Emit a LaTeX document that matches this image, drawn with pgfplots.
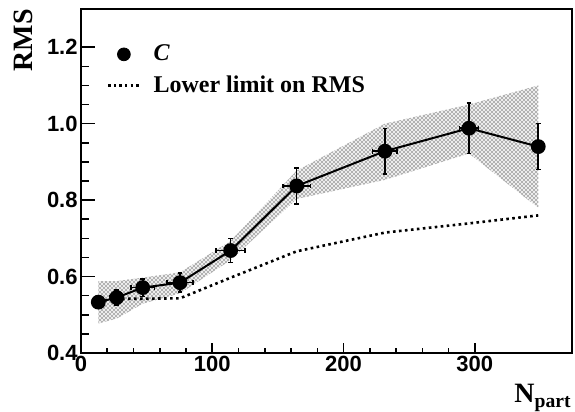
\documentclass[border=0pt]{standalone}
\usepackage{fontspec}
\setmainfont{Liberation Serif}
\setsansfont{Liberation Sans}
\usepackage{pgfplots}
\pgfplotsset{compat=1.18}
\usetikzlibrary{patterns}
\pgfdeclarepatternformonly{rootcross}{\pgfpoint{-0.3pt}{-0.3pt}}{\pgfpoint{2.3pt}{2.3pt}}{\pgfpoint{2pt}{2pt}}{%
  \pgfsetlinewidth{0.4pt}%
  \pgfpathmoveto{\pgfpoint{0pt}{0pt}}\pgfpathlineto{\pgfpoint{2pt}{2pt}}%
  \pgfpathmoveto{\pgfpoint{0pt}{2pt}}\pgfpathlineto{\pgfpoint{2pt}{0pt}}%
  \pgfusepath{stroke}}
\pgfplotsset{shortline legend/.style={legend image code/.code={\draw[##1] (0cm,0cm) -- (0.55cm,0cm);}},
  dot legend/.style={legend image code/.code={\draw[##1] plot coordinates {(0.275cm,0cm)};}}}

\pgfplotstableread{
x     y      ex    ey
13.2  0.533  0     0.010
27.2  0.545  5     0.020
47    0.571  9     0.023
75.4  0.584  10    0.025
114   0.668  11    0.031
164.3 0.837  10.4  0.047
231.5 0.928  9.4   0.059
295.5 0.988  7.2   0.066
348.3 0.940  0     0.060
}\datatable

\pgfplotstableread{
x     y
13.2  0.535
27.2  0.542
47    0.542
75.4  0.543
114   0.597
164.3 0.666
231.5 0.715
295.5 0.739
348.3 0.760
}\limittable

\begin{document}
\begin{tikzpicture}
\begin{axis}[name=ax, scale only axis, width=245.5pt, height=172pt,
  xmin=0, xmax=374, ymin=0.4, ymax=1.3,
  xtick={0,100,200,300}, minor x tick num=4,
  ytick={0.4,0.6,0.8,1.0,1.2}, minor y tick num=3,
  tick align=inside, xtick pos=left, ytick pos=left,
  major tick length=6pt, minor tick length=3pt,
  xtick style={/pgfplots/major tick length=5pt, /pgfplots/minor tick length=2.5pt},
  ytick style={/pgfplots/major tick length=7pt, /pgfplots/minor tick length=4pt},
  axis line style={line width=0.9pt},
  every tick/.style={line width=0.8pt, black},
  /pgf/number format/assume math mode=true,
  ticklabel style={font=\fontsize{11}{11}\selectfont\sffamily\bfseries},
  xticklabel style={inner sep=1.5pt},
  yticklabel style={inner sep=1.5pt, /pgf/number format/.cd, fixed, fixed zerofill, precision=1},
  ylabel={RMS},
  ylabel style={font=\fontsize{14}{14}\selectfont\bfseries, at={(axis description cs:-0.0978,1)}, anchor=south east, inner sep=0pt},
  xlabel={N\textsubscript{part}},
  xlabel style={font=\fontsize{14}{14}\selectfont\bfseries, at={(axis description cs:1,-0.145)}, anchor=base east, inner sep=0pt},
  legend style={draw=none, fill=none, at={(0.04,0.92)}, anchor=north west,
    font=\fontsize{12}{14}\selectfont\bfseries, row sep=2pt},
  legend cell align=left,
]
\addlegendimage{dot legend, only marks, mark=*, mark size=3.2pt, black}
\addlegendentry{\hspace*{4.4pt}\textit{C}}
\addlegendimage{shortline legend, black, line width=1.2pt, dash pattern=on 1.2pt off 1.6pt}
\addlegendentry{\hspace*{4.4pt}Lower limit on RMS}

\addplot[draw=none, pattern=rootcross, pattern color=black!30, forget plot] coordinates {
(13.2,0.588) (27.2,0.588) (47,0.597) (75.4,0.611) (114,0.693) (164.3,0.877) (231.5,1.000) (295.5,1.050) (348.3,1.100)
(348.3,0.780) (295.5,0.922) (231.5,0.853) (164.3,0.803) (114,0.643) (75.4,0.556) (47,0.529) (27.2,0.490) (13.2,0.477)
} -- cycle;

\addplot[black, line width=1.3pt, dash pattern=on 1.3pt off 1.7pt, forget plot] table[x=x, y=y] {\limittable};

\addplot[black, line width=1pt, mark=*, mark size=3.2pt, forget plot,
  error bars/.cd, x dir=both, x explicit, y dir=both, y explicit,
  error bar style={line width=0.8pt},
  error mark options={rotate=90, line width=0.8pt, mark size=1.2pt}]
  table[x=x, y=y, x error=ex, y error=ey] {\datatable};
\end{axis}
\pgfresetboundingbox
\path ([shift={(-40.5pt,-29.5pt)}]ax.south west) rectangle ([shift={(1.5pt,4.5pt)}]ax.north east);
\end{tikzpicture}
\end{document}
